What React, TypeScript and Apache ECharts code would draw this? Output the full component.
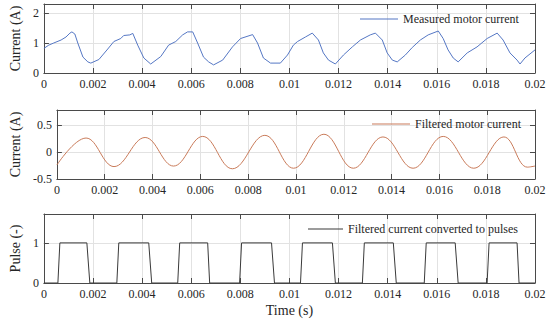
import React, { useEffect, useRef } from "react";
import * as echarts from "echarts";

// ---- Data ----
const measuredTime = [
  0, 0.0002, 0.0004, 0.0007, 0.0009, 0.00106, 0.00114, 0.00126, 0.00138, 0.00159,
  0.00179, 0.00191, 0.00224, 0.0026, 0.00285, 0.00313, 0.00325, 0.0035, 0.00362, 0.00382,
  0.00407, 0.00435, 0.00476, 0.00508, 0.00537, 0.00565, 0.00585, 0.00606, 0.00626, 0.0065,
  0.00671, 0.00691, 0.00728, 0.00768, 0.00801, 0.0085, 0.0087, 0.00894, 0.00923, 0.00963,
  0.00992, 0.01016, 0.01033, 0.01065, 0.01093, 0.01118, 0.01138, 0.01159, 0.01187, 0.0122,
  0.01256, 0.01289, 0.01329, 0.0135, 0.01378, 0.01398, 0.01419, 0.01439, 0.01472, 0.015,
  0.01533, 0.01565, 0.01606, 0.01626, 0.01646, 0.01667, 0.01687, 0.01724, 0.01764, 0.01805,
  0.01846, 0.0187, 0.01898, 0.01927, 0.01939, 0.01959, 0.02,
];
const measuredCurrent = [
  0.82, 0.93, 1.0, 1.1, 1.2, 1.33, 1.37, 1.3, 1.0, 0.53,
  0.37, 0.33, 0.45, 0.8, 1.05, 1.15, 1.25, 1.27, 1.32, 0.93,
  0.5, 0.3, 0.55, 0.93, 1.05, 1.27, 1.37, 1.37, 1.0, 0.53,
  0.37, 0.27, 0.43, 0.87, 1.15, 1.28, 1.0, 0.5, 0.33, 0.33,
  0.6, 0.93, 1.05, 1.2, 1.33, 1.1, 0.67, 0.43, 0.3, 0.6,
  0.87, 1.1, 1.27, 1.33, 1.1, 0.67, 0.43, 0.37, 0.6, 0.85,
  1.1, 1.27, 1.4, 1.15, 0.77, 0.5, 0.37, 0.67, 0.87, 1.15,
  1.33, 1.1, 0.67, 0.43, 0.3, 0.5, 0.77,
];

// filtered current: start, alternating peaks / troughs, end
const filteredTime = [
  0, 0.00122, 0.00239, 0.00369, 0.00488, 0.0061, 0.00734, 0.0087, 0.0099, 0.01117,
  0.0124, 0.01364, 0.0149, 0.01616, 0.01744, 0.0187, 0.01968, 0.02,
];
const filteredCurrent = [
  -0.24, 0.26, -0.27, 0.27, -0.26, 0.29, -0.31, 0.31, -0.3, 0.33,
  -0.3, 0.28, -0.3, 0.29, -0.3, 0.28, -0.28, -0.26,
];

const pulseTime = [
  0, 0.00057, 0.00065, 0.00175, 0.00187,
  0.00297, 0.00305, 0.00427, 0.00439,
  0.00545, 0.00553, 0.00667, 0.00675,
  0.00797, 0.00805, 0.00927, 0.00939,
  0.01045, 0.01053, 0.01175, 0.01187,
  0.01297, 0.01305, 0.01423, 0.01435,
  0.01549, 0.01557, 0.01675, 0.01687,
  0.01805, 0.01813, 0.01927, 0.01935, 0.02,
];
const pulseValue = [
  0, 0, 1, 1, 0,
  0, 1, 1, 0,
  0, 1, 1, 0,
  0, 1, 1, 0,
  0, 1, 1, 0,
  0, 1, 1, 0,
  0, 1, 1, 0,
  0, 1, 1, 0, 0,
];

const seriesNames = [
  "Measured motor current",
  "Filtered motor current",
  "Filtered current converted to pulses",
];
const yAxisNames = ["Current (A)", "Current (A)", "Pulse (-)"];
const yMins = [0, -0.5, 0];
const yMaxs = [2.3, 0.78, 1.72];
const yIntervals = [1, 0.5, 1];
const xMin = 0;
const xMax = 0.02;
const xInterval = 0.002;
const xAxisName = "Time (s)";

// ---- Styling ----
const FONT = "'Liberation Serif', 'Times New Roman', serif";
const AXIS_COLOR = "#4a4a4a";
const TEXT_COLOR = "#262626";
const GRID_COLOR = "#e2e2e2";
const LINE_COLORS = ["#5577c4", "#c97b5a", "#3a3a3a"];
const GRID_TOPS = [4, 110, 214];
const GRID_HEIGHT = 69;
const GRID_LEFT = 43;
const GRID_WIDTH = 492;
const Y_NAME_GAPS = [14, 26, 13];
const LEGEND_LEFTS = [360, 372, 308];
const LEGEND_TOPS = [12, 117, 222];
const LEGEND_ITEM_W = [38, 38, 35];

export default function App() {
  const ref = useRef<HTMLDivElement>(null);

  useEffect(() => {
    if (!ref.current) return;
    const chart = echarts.init(ref.current, undefined, { renderer: "svg" });

    const pair = (t: number[], v: number[]) => t.map((x, i) => [x, v[i]]);
    const datasets = [
      pair(measuredTime, measuredCurrent),
      pair(filteredTime, filteredCurrent),
      pair(pulseTime, pulseValue),
    ];

    const grids = GRID_TOPS.map((top) => ({
      left: GRID_LEFT,
      top,
      width: GRID_WIDTH,
      height: GRID_HEIGHT,
    }));

    const axisLine = { show: true, onZero: false, lineStyle: { color: AXIS_COLOR, width: 1 } };
    const axisTick = { show: true, inside: true, length: 5, lineStyle: { color: AXIS_COLOR } };
    const labelStyle = { fontFamily: FONT, fontSize: 12, color: TEXT_COLOR, margin: 5 };

    const xAxes: any[] = [];
    const yAxes: any[] = [];
    for (let g = 0; g < 3; g++) {
      xAxes.push({
        type: "value",
        gridIndex: g,
        min: xMin,
        max: xMax,
        interval: xInterval,
        position: "bottom",
        axisLine,
        axisTick,
        axisLabel: {
          ...labelStyle,
          formatter: (v: number) => String(+v.toFixed(4)),
        },
        splitLine: { show: true, lineStyle: { color: GRID_COLOR, width: 1 } },
        name: g === 2 ? xAxisName : "",
        nameLocation: "middle",
        nameGap: 20,
        nameTextStyle: { fontFamily: FONT, fontSize: 14, color: TEXT_COLOR },
      });
      yAxes.push({
        type: "value",
        gridIndex: g,
        min: yMins[g],
        max: yMaxs[g],
        interval: yIntervals[g],
        position: "left",
        axisLine,
        axisTick,
        axisLabel: {
          ...labelStyle,
          showMaxLabel: false,
          formatter: (v: number) => String(+v.toFixed(2)),
        },
        splitLine: { show: true, lineStyle: { color: GRID_COLOR, width: 1 } },
        name: yAxisNames[g],
        nameLocation: "middle",
        nameGap: Y_NAME_GAPS[g],
        nameTextStyle: { fontFamily: FONT, fontSize: 14, color: TEXT_COLOR },
      });
    }
    // mirrored axes (top and right) for the box and inward ticks
    for (let g = 0; g < 3; g++) {
      xAxes.push({
        type: "value",
        gridIndex: g,
        min: xMin,
        max: xMax,
        interval: xInterval,
        position: "top",
        axisLine,
        axisTick,
        axisLabel: { show: false },
        splitLine: { show: false },
      });
      yAxes.push({
        type: "value",
        gridIndex: g,
        min: yMins[g],
        max: yMaxs[g],
        interval: yIntervals[g],
        position: "right",
        axisLine,
        axisTick,
        axisLabel: { show: false },
        splitLine: { show: false },
      });
    }

    const series = datasets.map((data, g) => ({
      name: seriesNames[g],
      type: "line",
      xAxisIndex: g,
      yAxisIndex: g,
      data,
      symbol: "none",
      smooth: g === 1 ? 0.4 : false,
      lineStyle: { color: LINE_COLORS[g], width: 1 },
      itemStyle: { color: LINE_COLORS[g] },
      z: 3,
    }));

    const legends = seriesNames.map((name, g) => ({
      data: [{ name, icon: "rect" }],
      left: LEGEND_LEFTS[g],
      top: LEGEND_TOPS[g],
      padding: 0,
      itemWidth: LEGEND_ITEM_W[g],
      itemHeight: 1,
      itemGap: 0,
      selectedMode: false,
      itemStyle: { color: LINE_COLORS[g] },
      textStyle: { fontFamily: FONT, fontSize: 12, color: TEXT_COLOR, lineHeight: 14 },
    }));

    chart.setOption({
      animation: false,
      backgroundColor: "#ffffff",
      textStyle: { fontFamily: FONT },
      grid: grids,
      xAxis: xAxes,
      yAxis: yAxes,
      legend: legends,
      series,
    });

    return () => chart.dispose();
  }, []);

  return (
    <div
      ref={ref}
      style={{ position: "absolute", left: 0, top: 0, width: 550, height: 322 }}
    />
  );
}
